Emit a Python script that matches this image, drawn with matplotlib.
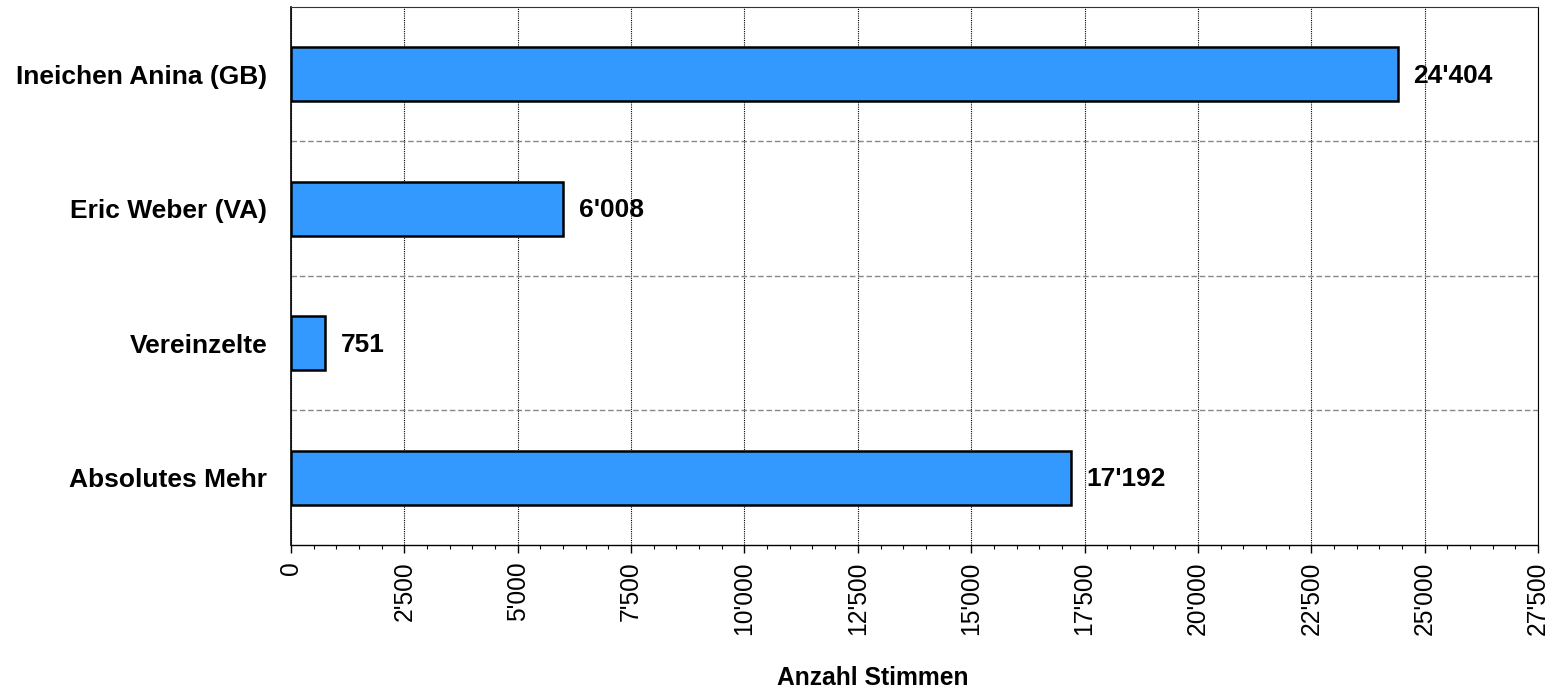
import matplotlib
matplotlib.use("Agg")
import matplotlib.pyplot as plt
from matplotlib.ticker import FuncFormatter, MultipleLocator, FixedLocator

categories = ["Ineichen Anina (GB)", "Eric Weber (VA)", "Vereinzelte", "Absolutes Mehr"]
values = [24404, 6008, 751, 17192]
xlabel = "Anzahl Stimmen"

plt.rcParams['font.family'] = ['Liberation Sans', 'DejaVu Sans']

fig = plt.figure(figsize=(15.63, 6.93), dpi=100)
ax = fig.add_axes([0.1862, 0.2136, 0.984 - 0.1862, 0.9899 - 0.2136])

n = len(categories)
ypos = [n - 0.5 - i for i in range(n)]
ax.barh(ypos, values, height=0.4, color="#3399FF", edgecolor="black", linewidth=1.8, zorder=3)

def fmt(v):
    return f"{int(round(v)):,}".replace(",", "'")

for y, v in zip(ypos, values):
    ax.text(v + 350, y - 0.01, fmt(v), va="center", ha="left", fontsize=19, fontweight="bold", zorder=4)

ax.set_xlim(0, 27500)
ax.set_ylim(0, n)
ax.xaxis.set_major_locator(MultipleLocator(2500))
ax.xaxis.set_minor_locator(MultipleLocator(500))
ax.xaxis.set_major_formatter(FuncFormatter(lambda v, p: fmt(v)))
ax.tick_params(axis="x", which="major", length=6, width=1, direction="out", labelrotation=90, labelsize=17.7, pad=6)
ax.tick_params(axis="x", which="minor", length=3, width=0.8, direction="out")

ax.yaxis.set_major_locator(FixedLocator(ypos))
ax.set_yticklabels(categories, fontsize=19, fontweight="bold")
ax.yaxis.set_minor_locator(FixedLocator(list(range(1, n))))
ax.tick_params(axis="y", which="both", length=0, pad=17)

ax.grid(axis="x", which="major", color="black", linestyle=(0, (1, 1)), linewidth=0.8, zorder=1)
ax.grid(axis="y", which="minor", color="#888888", linestyle=(0, (4, 2)), linewidth=1.0, zorder=1)

ax.spines["left"].set_linewidth(1.2)
ax.spines["bottom"].set_linestyle((0, (1, 1)))
ax.spines["bottom"].set_linewidth(1.0)
ax.spines["top"].set_linestyle((0, (3, 1)))
ax.spines["top"].set_linewidth(0.8)
ax.spines["top"].set_color("#333333")
ax.spines["right"].set_linestyle((0, (1, 1)))
ax.spines["right"].set_linewidth(0.8)

ax.set_xlabel(xlabel, fontsize=17.7, fontweight="bold", labelpad=22)
ax.xaxis.label.set_x(0.4667)

fig.savefig("out.png", dpi=100)
